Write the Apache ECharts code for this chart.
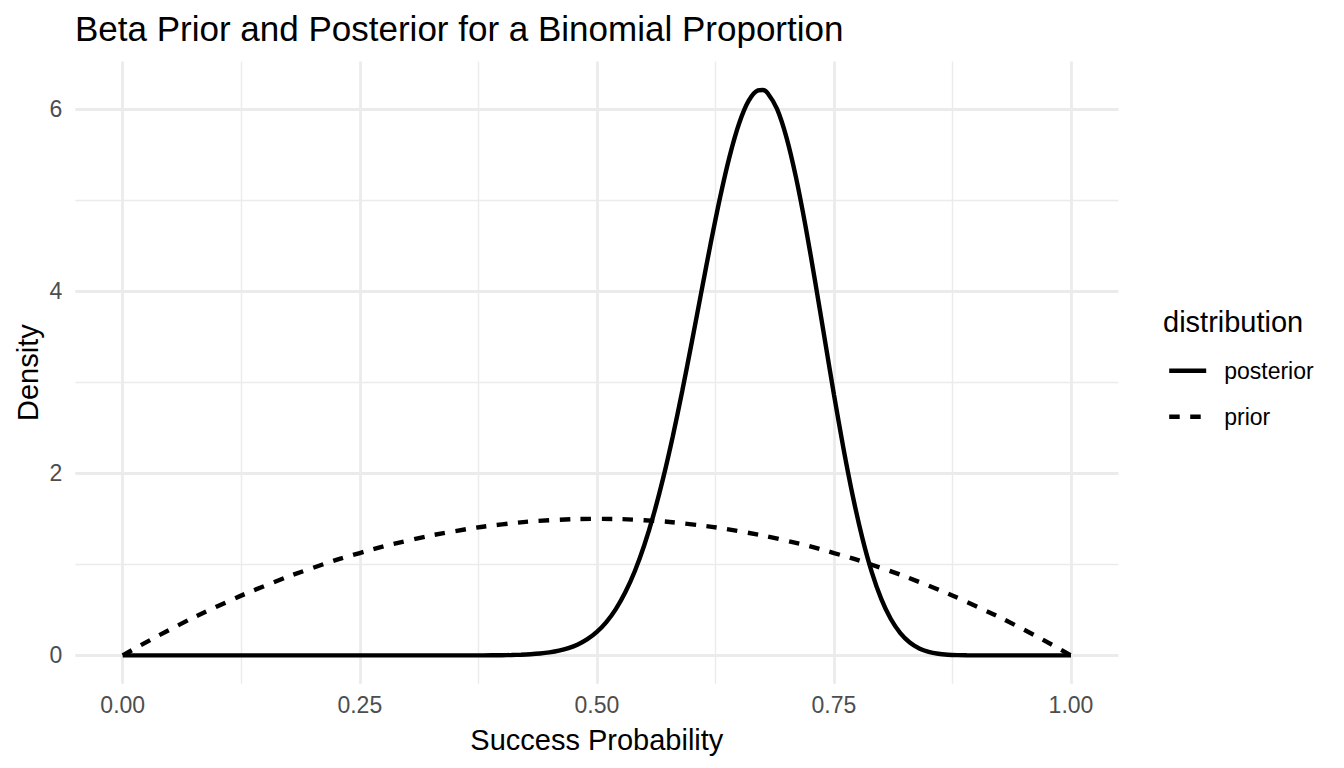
<!DOCTYPE html>
<html><head><meta charset="utf-8">
<script src="https://cdn.jsdelivr.net/npm/echarts@6/dist/echarts.min.js"></script>
<style>html,body{margin:0;padding:0;background:#fff}#c{width:1344px;height:768px}</style>
</head><body><div id="c"></div>
<script>
// ---- data ----
const seriesNames = ['posterior', 'prior'];
const posteriorX = [0, 0.10, 0.20, 0.30, 0.35, 0.38,
  0.40, 0.41, 0.42, 0.43, 0.44, 0.45, 0.46, 0.47, 0.48, 0.49,
  0.50, 0.51, 0.52, 0.53, 0.54, 0.55, 0.56, 0.57, 0.58, 0.59,
  0.60, 0.61, 0.62, 0.63, 0.64, 0.65, 0.66, 0.67, 0.675, 0.68, 0.69,
  0.70, 0.71, 0.72, 0.73, 0.74, 0.75, 0.76, 0.77, 0.78, 0.79,
  0.80, 0.81, 0.82, 0.83, 0.84, 0.85, 0.86, 0.87, 0.88, 0.89,
  0.90, 0.92, 0.95, 1.00];
const posteriorY = [0, 0, 0, 0, 0.0001, 0.0007,
  0.0023, 0.0041, 0.0072, 0.0122, 0.0202, 0.0327, 0.0516, 0.0798, 0.1206, 0.1783,
  0.2583, 0.3664, 0.5092, 0.6934, 0.9254, 1.2106, 1.5523, 1.9510, 2.4039, 2.9026,
  3.4359, 3.9838, 4.5264, 5.0359, 5.4848, 5.8455, 6.0938, 6.2094, 6.2138, 6.1809, 6.0060,
  5.6914, 5.2538, 4.7210, 4.1225, 3.4941, 2.8694, 2.2789, 1.7467, 1.2888, 0.9127,
  0.6185, 0.3995, 0.2448, 0.1416, 0.0768, 0.0388, 0.0181, 0.0077, 0.0029, 0.0010,
  0.0003, 0, 0, 0];
const priorX = [0, 0.05, 0.10, 0.15, 0.20, 0.25, 0.30, 0.35, 0.40, 0.45, 0.50,
  0.55, 0.60, 0.65, 0.70, 0.75, 0.80, 0.85, 0.90, 0.95, 1.00];
const priorY = [0, 0.285, 0.54, 0.765, 0.96, 1.125, 1.26, 1.365, 1.44, 1.485, 1.5,
  1.485, 1.44, 1.365, 1.26, 1.125, 0.96, 0.765, 0.54, 0.285, 0];
const xTickValues = [0, 0.25, 0.5, 0.75, 1];
const yTickValues = [0, 2, 4, 6];
const titleText = 'Beta Prior and Posterior for a Binomial Proportion';
const xTitle = 'Success Probability';
const yTitle = 'Density';
const legendTitle = 'distribution';

// ---- layout ----
const W = 1344, H = 768;
const FONT = '"Liberation Sans", Arial, Helvetica, sans-serif';
const panel = { left: 75.3, right: 1118.4, top: 61.6, bottom: 683.7 };
const xRange = [-0.05, 1.05], yRange = [-0.311, 6.526];
const pxX = (panel.right - panel.left) / (xRange[1] - xRange[0]);
const pxY = (panel.bottom - panel.top) / (yRange[1] - yRange[0]);
const xLo = xTickValues[0], xHi = xTickValues[xTickValues.length - 1];
const yLo = yTickValues[0], yHi = yTickValues[yTickValues.length - 1];
const gridB = {
  left: panel.left + (xLo - xRange[0]) * pxX,
  right: W - (panel.right - (xRange[1] - xHi) * pxX),
  top: panel.top, bottom: H - panel.bottom
};
const gridC = {
  left: panel.left, right: W - panel.right,
  top: panel.top + (yRange[1] - yHi) * pxY,
  bottom: H - (panel.bottom - (yLo - yRange[0]) * pxY)
};
const GRID = '#EBEBEB';
const LW = 4.4;
const DASH = [10.5, 10.5];

const chart = echarts.init(document.getElementById('c'), null, { renderer: 'svg', width: W, height: H });
chart.setOption({
  animation: false,
  backgroundColor: '#fff',
  grid: [
    Object.assign({ containLabel: false }, gridB),
    Object.assign({ containLabel: false }, gridC)
  ],
  xAxis: [
    { gridIndex: 0, type: 'value', min: xLo, max: xHi, interval: 0.25,
      axisLine: { show: false }, axisTick: { show: false },
      axisLabel: { show: true, margin: 10, color: '#4D4D4D', fontSize: 23, fontFamily: FONT,
        formatter: v => v.toFixed(2) },
      splitLine: { show: true, lineStyle: { color: GRID, width: 2.8 } },
      minorTick: { show: false, splitNumber: 2 },
      minorSplitLine: { show: true, lineStyle: { color: GRID, width: 1.4 } } },
    { gridIndex: 1, type: 'value', min: 0, max: 1, show: false,
      splitLine: { show: false } }
  ],
  yAxis: [
    { gridIndex: 0, type: 'value', min: yRange[0], max: yRange[1], show: false,
      splitLine: { show: false } },
    { gridIndex: 1, type: 'value', min: yLo, max: yHi, interval: 2,
      axisLine: { show: false }, axisTick: { show: false },
      axisLabel: { show: true, margin: 13, color: '#4D4D4D', fontSize: 23, fontFamily: FONT },
      splitLine: { show: true, lineStyle: { color: GRID, width: 2.8 } },
      minorTick: { show: false, splitNumber: 2 },
      minorSplitLine: { show: true, lineStyle: { color: GRID, width: 1.4 } } }
  ],
  legend: {
    orient: 'vertical', left: 1167, top: 359.2, padding: 0,
    itemWidth: 37, itemHeight: 23, itemGap: 23,
    data: seriesNames,
    lineStyle: { width: LW },
    itemStyle: { opacity: 0, borderWidth: 0 },
    textStyle: { fontSize: 23, color: '#000', fontFamily: FONT, padding: [0, 0, 0, 13] },
    selectedMode: false
  },
  series: [
    { name: seriesNames[0], type: 'line', xAxisIndex: 0, yAxisIndex: 0,
      data: posteriorX.map((x, i) => [x, posteriorY[i]]),
      symbol: 'none', showSymbol: false, smooth: 0.3, clip: false,
      lineStyle: { color: '#000', width: LW, cap: 'butt' }, itemStyle: { color: '#000' } },
    { name: seriesNames[1], type: 'line', xAxisIndex: 0, yAxisIndex: 0,
      data: priorX.map((x, i) => [x, priorY[i]]),
      symbol: 'none', showSymbol: false, smooth: 0.5, clip: false,
      lineStyle: { color: '#000', width: LW, type: DASH, cap: 'butt' }, itemStyle: { color: '#000' } }
  ],
  graphic: [
    { type: 'text', left: 75, top: 11, style: { text: titleText, fontSize: 35, fill: '#000', fontFamily: FONT } },
    { type: 'text', x: (panel.left + panel.right) / 2, y: 740,
      style: { text: xTitle, fontSize: 29, fill: '#000', fontFamily: FONT, align: 'center', verticalAlign: 'middle' } },
    { type: 'text', x: 28, y: (panel.top + panel.bottom) / 2, rotation: Math.PI / 2,
      style: { text: yTitle, fontSize: 29, fill: '#000', fontFamily: FONT, align: 'center', verticalAlign: 'middle' } },
    { type: 'text', x: 1163, y: 322,
      style: { text: legendTitle, fontSize: 29, fill: '#000', fontFamily: FONT, align: 'left', verticalAlign: 'middle' } }
  ]
});
</script></body></html>
